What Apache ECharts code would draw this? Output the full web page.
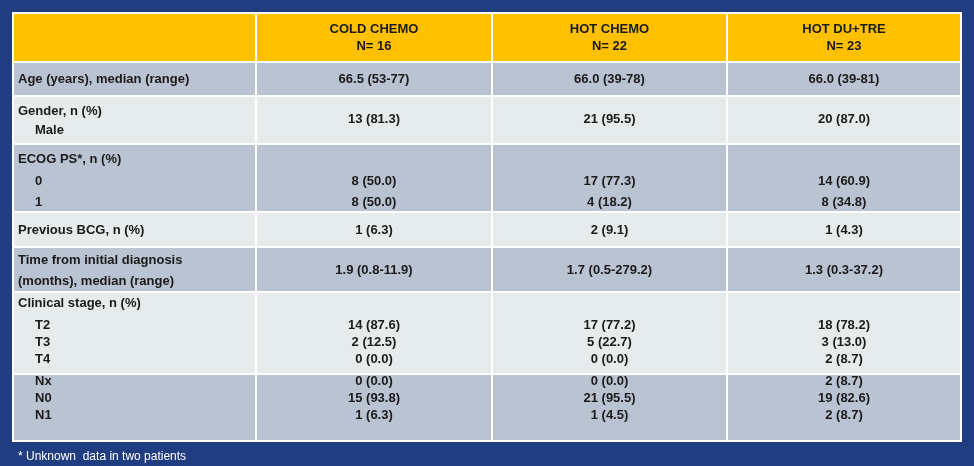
<!DOCTYPE html>
<html><head><meta charset="utf-8">
<script src="https://cdn.jsdelivr.net/npm/echarts@6/dist/echarts.min.js"></script>
<style>html,body{margin:0;padding:0;background:#213D82;}#c{width:974px;height:466px;}</style>
</head><body><div id="c"></div>
<script>
// ---- data ----
const headers = [["",""],["COLD CHEMO","N= 16"],["HOT CHEMO","N= 22"],["HOT DU+TRE","N= 23"]];
const rowLabels = [
  ["Age (years), median (range)"],
  ["Gender, n (%)"," Male"],
  ["ECOG PS*, n (%)"," 0"," 1"],
  ["Previous BCG, n (%)"],
  ["Time from initial diagnosis","(months), median (range)"],
  ["Clinical stage, n (%)"," T2"," T3"," T4"],
  [" Nx"," N0"," N1"]
];
const coldChemo = [["66.5 (53-77)"],["13 (81.3)"],["8 (50.0)","8 (50.0)"],["1 (6.3)"],["1.9 (0.8-11.9)"],["14 (87.6)","2 (12.5)","0 (0.0)"],["0 (0.0)","15 (93.8)","1 (6.3)"]];
const hotChemo = [["66.0 (39-78)"],["21 (95.5)"],["17 (77.3)","4 (18.2)"],["2 (9.1)"],["1.7 (0.5-279.2)"],["17 (77.2)","5 (22.7)","0 (0.0)"],["0 (0.0)","21 (95.5)","1 (4.5)"]];
const hotDuTre = [["66.0 (39-81)"],["20 (87.0)"],["14 (60.9)","8 (34.8)"],["1 (4.3)"],["1.3 (0.3-37.2)"],["18 (78.2)","3 (13.0)","2 (8.7)"],["2 (8.7)","19 (82.6)","2 (8.7)"]];
const footnote = "* Unknown  data in two patients";

// ---- layout ----
const colEdges = [13,256,492,727,961];
const rowEdges = [13,62,96,144,212,247,292,374,441];
const headerY = [29,46];
const labelY = [[79],[111,130],[159,181,202],[230],[260,281],[303,325,342,359],[381,398,415]];
const valueY = [[79],[119],[181,202],[230],[270],[325,342,359],[381,398,415]];
const rowFill = ["#B9C3D1","#E6ECEC"];

const cols = [rowLabels, coldChemo, hotChemo, hotDuTre];
const cells = [];
for (let r=0;r<=rowLabels.length;r++) for (let c=0;c<4;c++) cells.push([c,r]);

const font = 'bold 13px Arial, "Liberation Sans", sans-serif';
function renderItem(params, api){
  const c = api.value(0), r = api.value(1);
  const p0 = api.coord([colEdges[c], rowEdges[r]]);
  const p1 = api.coord([colEdges[c+1], rowEdges[r+1]]);
  const children = [{type:'rect', shape:{x:p0[0],y:p0[1],width:p1[0]-p0[0],height:p1[1]-p0[1]},
    style:{fill: r===0 ? '#FFC000' : rowFill[(r-1)%2], stroke:'#ffffff', lineWidth:2}}];
  const cx = (p0[0]+p1[0])/2;
  if (r===0){
    headers[c].forEach((t,i)=>{ const p=api.coord([0,headerY[i]]);
      children.push({type:'text',style:{text:t,x:cx,y:p[1],font:font,fill:'#1a1a1a',align:'center',verticalAlign:'middle'}});});
  } else {
    const lines = cols[c][r-1];
    const ys = c===0 ? labelY[r-1] : valueY[r-1];
    lines.forEach((t,i)=>{
      const p = api.coord([0, ys[i]]);
      if (c===0){
        const ind = t.startsWith(' ');
        const px = api.coord([ind?35:18,0])[0];
        children.push({type:'text',style:{text:t.trim(),x:px,y:p[1],font:font,fill:'#1a1a1a',align:'left',verticalAlign:'middle'}});
      } else {
        children.push({type:'text',style:{text:t,x:cx,y:p[1],font:font,fill:'#1a1a1a',align:'center',verticalAlign:'middle'}});
      }
    });
  }
  return {type:'group', children};
}

const chart = echarts.init(document.getElementById('c'));
chart.setOption({
  backgroundColor:'#213D82',
  animation:false,
  grid:{left:0,right:0,top:0,bottom:0},
  xAxis:{type:'value',min:0,max:974,show:false},
  yAxis:{type:'value',min:0,max:466,inverse:true,show:false},
  graphic:[{type:'text',left:18,top:451,style:{text:footnote,font:'12px Arial, "Liberation Sans", sans-serif',fill:'#ffffff'}}],
  series:[{type:'custom',renderItem,data:cells,encode:{x:0,y:1}}]
});
</script></body></html>
